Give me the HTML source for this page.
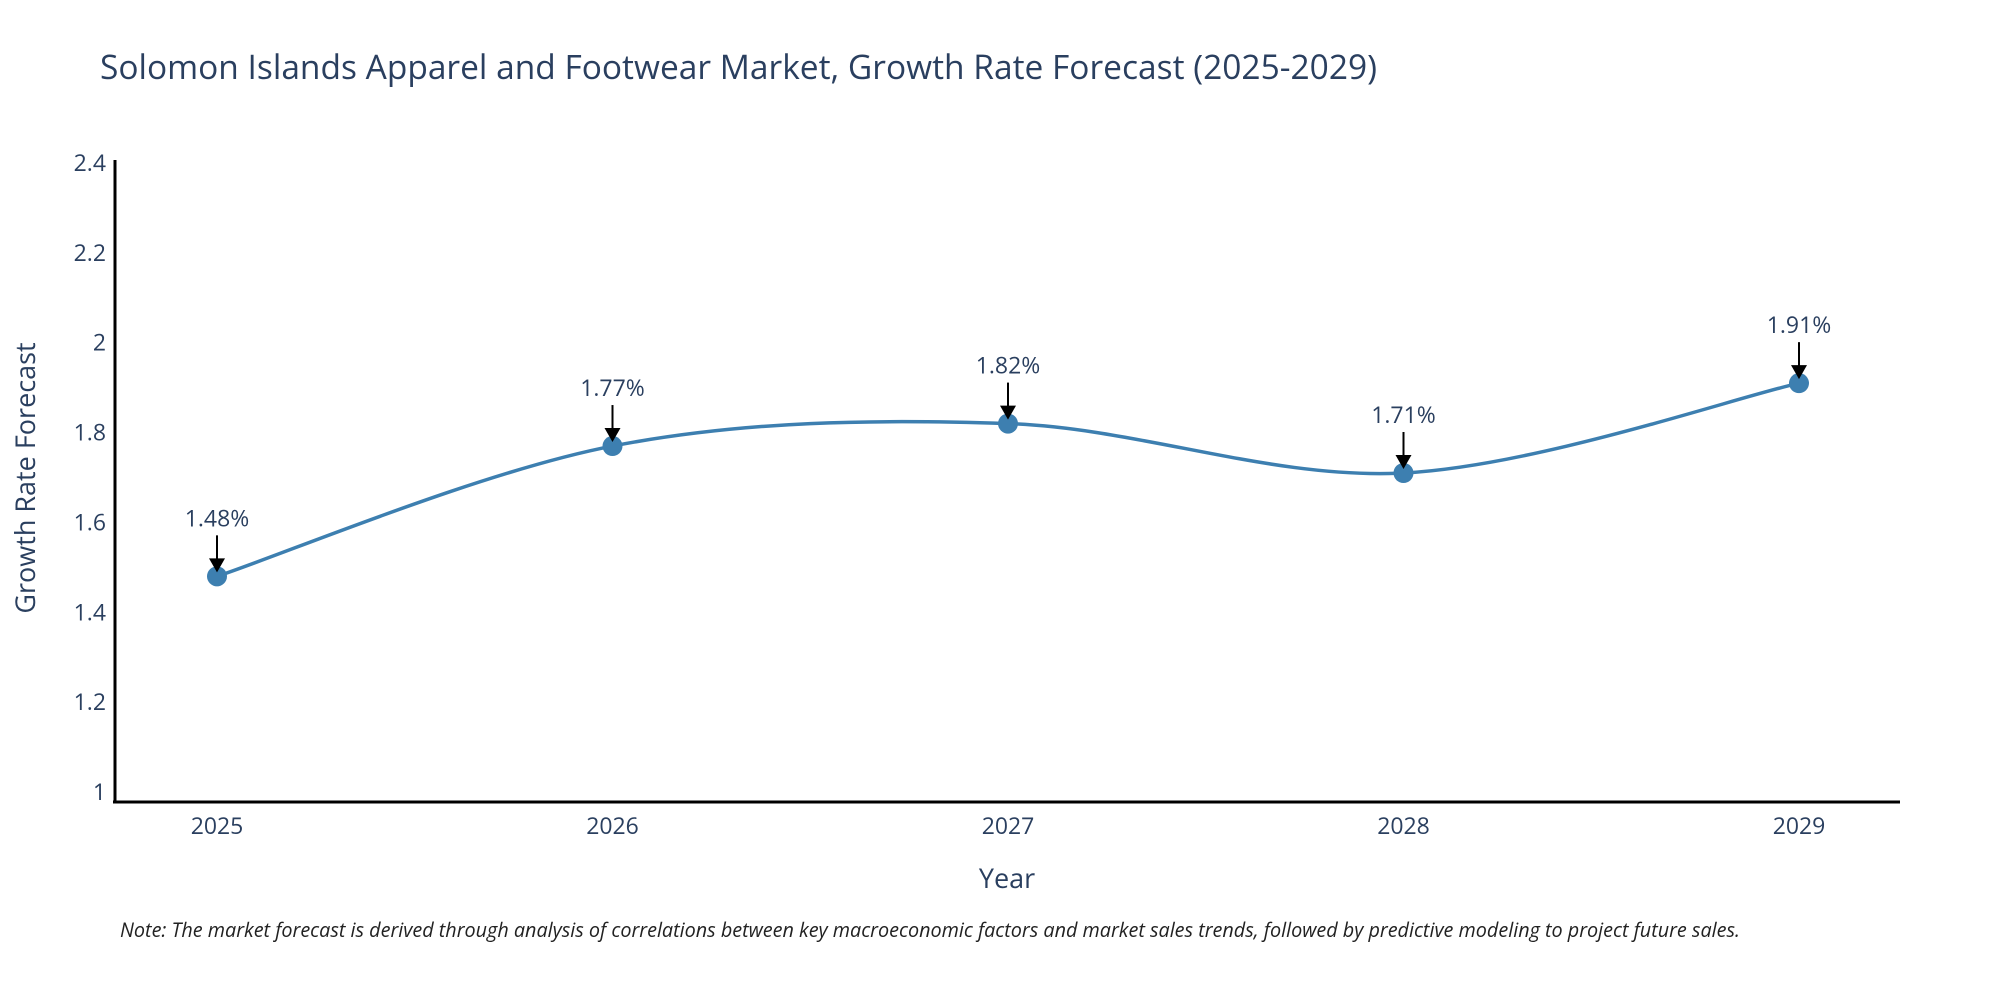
<!DOCTYPE html>
<html><head><meta charset="utf-8"><style>
body{margin:0;background:#fff;}
svg text{font-family:"Open Sans","Liberation Sans",sans-serif;}
</style></head><body>
<svg width="2000" height="1000" viewBox="0 0 2000 1000" xmlns="http://www.w3.org/2000/svg">
<rect width="2000" height="1000" fill="#fff"/>
<text x="100" y="79" font-size="33.5" fill="#2a3f5f">Solomon Islands Apparel and Footwear Market, Growth Rate Forecast (2025-2029)</text>
<g id="yticks"></g><g id="xticks"></g>
<line x1="115" y1="160" x2="115" y2="803" stroke="#000" stroke-width="3"/>
<line x1="113" y1="802" x2="1900" y2="802" stroke="#000" stroke-width="3"/>
<path id="line" fill="none" stroke="#3d7fb0" stroke-width="3.5"/>
<g id="marks"></g>
<text transform="translate(35,478) rotate(-90)" text-anchor="middle" font-size="27" fill="#2a3f5f">Growth Rate Forecast</text>
<text x="1007" y="888" text-anchor="middle" font-size="27" fill="#2a3f5f">Year</text>
<text x="120" y="937" font-size="19.8" font-style="italic" fill="#222">Note: The market forecast is derived through analysis of correlations between key macroeconomic factors and market sales trends, followed by predictive modeling to project future sales.</text>
</svg>
<script>
const years=["2025","2026","2027","2028","2029"];
const values=[1.48,1.77,1.82,1.71,1.91];
const labels=["1.48%","1.77%","1.82%","1.71%","1.91%"];
const yTicks=[1,1.2,1.4,1.6,1.8,2,2.2,2.4];
const yTickLabels=["1","1.2","1.4","1.6","1.8","2","2.2","2.4"];
const NS="http://www.w3.org/2000/svg";
function xs(i){return 217+i*(1582/(years.length-1));}
function ys(v){return 792-(v-1)/1.4*629;}
function mk(t,a,p){const e=document.createElementNS(NS,t);for(const k in a)e.setAttribute(k,a[k]);p.appendChild(e);return e;}
const yt=document.getElementById('yticks');
yTicks.forEach((v,i)=>{const t=mk('text',{x:106,y:ys(v)+8,'text-anchor':'end','font-size':23,fill:'#2a3f5f'},yt);t.textContent=yTickLabels[i];

});
const xt=document.getElementById('xticks');
years.forEach((y,i)=>{const t=mk('text',{x:xs(i),y:834,'text-anchor':'middle','font-size':23,fill:'#2a3f5f'},xt);t.textContent=y;

});
const pts=values.map((v,i)=>[xs(i),ys(v)]);
let d="M"+pts[0][0]+","+pts[0][1];
for(let i=0;i<pts.length-1;i++){const p0=pts[Math.max(0,i-1)],p1=pts[i],p2=pts[i+1],p3=pts[Math.min(pts.length-1,i+2)];const s=1/6;
d+=` C${p1[0]+(p2[0]-p0[0])*s},${p1[1]+(p2[1]-p0[1])*s} ${p2[0]-(p3[0]-p1[0])*s},${p2[1]-(p3[1]-p1[1])*s} ${p2[0]},${p2[1]}`;}
document.getElementById('line').setAttribute('d',d);
const mg=document.getElementById('marks');
pts.forEach((p,i)=>{const c=mk('circle',{cx:p[0],cy:p[1],r:10,fill:'#3d7fb0'},mg);


const l=mk('line',{x1:p[0],y1:p[1]-41,x2:p[0],y2:p[1]-14,stroke:'#000','stroke-width':2},mg);


const h=mk('path',{d:`M${p[0]-8},${p[1]-18} L${p[0]+8},${p[1]-18} L${p[0]},${p[1]-4} Z`,fill:'#000'},mg);


const t=mk('text',{x:p[0],y:p[1]-50,'text-anchor':'middle','font-size':23,fill:'#2a3f5f'},mg);t.textContent=labels[i];

});
</script>
</body></html>
